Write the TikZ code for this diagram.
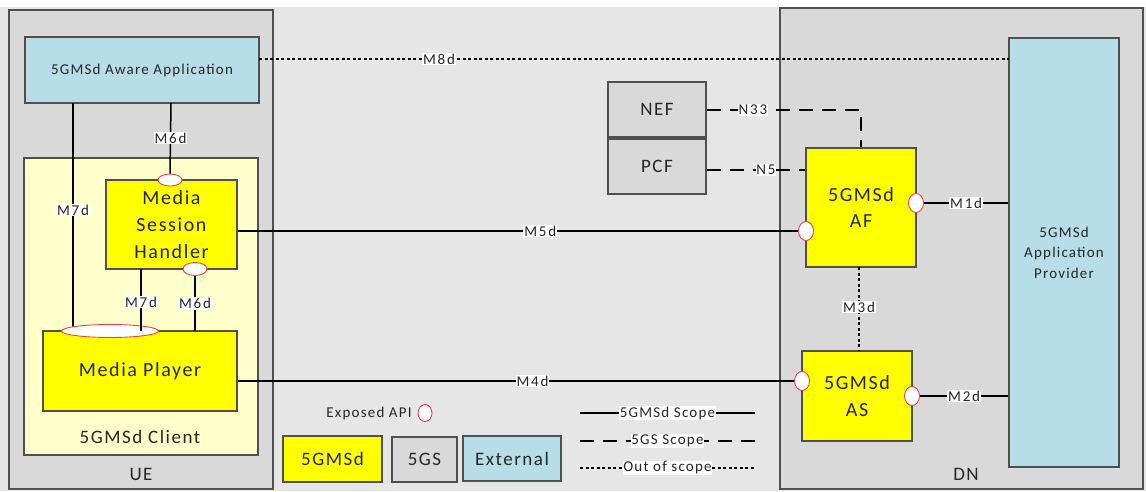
\documentclass[tikz,border=0pt]{standalone}
\usepackage{fontspec}
\setmainfont{Carlito}[LetterSpace=8]
\newfontfamily\lblfont{Carlito}[LetterSpace=12]
\usetikzlibrary{shapes.geometric}
\definecolor{bgmid}{HTML}{E6E6E6}
\definecolor{bgdark}{HTML}{D9D9D9}
\definecolor{clientbg}{HTML}{FFFFCC}
\definecolor{gyellow}{HTML}{FFFF00}
\definecolor{extblue}{HTML}{B7DDE8}
\definecolor{edge}{HTML}{505050}
\definecolor{apired}{HTML}{F04040}
\tikzset{
  box/.style={draw=edge, line width=1.2pt, rectangle, inner sep=0pt, align=center, text=black!85},
  area/.style={box, fill=bgdark},
  gms/.style={box, fill=gyellow},
  ext/.style={box, fill=extblue},
  fivegs/.style={box, fill=bgdark},
  api/.style={draw=apired, fill=white, ellipse, inner sep=0pt, line width=0.9pt},
  lbl/.style={fill=white, inner sep=0.8pt, font=\lblfont\fontsize{15}{16}\selectfont, text=black!85},
  leglbl/.style={fill=white, inner sep=0.8pt, font=\fontsize{15}{16}\selectfont, text=black!85},
  solidc/.style={line width=1.5pt},
  dashc/.style={line width=1.5pt, dash pattern=on 14pt off 9pt},
  dotc/.style={line width=1.3pt, dash pattern=on 3pt off 2.5pt},
}
\begin{document}
\begin{tikzpicture}[x=1pt,y=-1pt]
\useasboundingbox (0,0) rectangle (1146,491);
\fill[white] (0,0) rectangle (1146,491);
\fill[bgmid] (0,7) rectangle (1146,491);
% areas
\node[area, minimum width=264, minimum height=479] (ue) at (141,249.5) {};
\node[area, minimum width=363, minimum height=481] (dn) at (961.5,248.5) {};
\node[font=\fontsize{19}{20}\selectfont, text=black!85] (uelbl) at (141,474) {UE};
\node[font=\fontsize{19}{20}\selectfont, text=black!85] (dnlbl) at (966,474) {DN};
% UE content
\node[ext, minimum width=234, minimum height=66, font=\fontsize{15}{16}\selectfont] (app) at (142,70) {5GMSd Aware Application};
\node[box, fill=clientbg, minimum width=234, minimum height=297] (client) at (141,306.5) {};
\node[font=\fontsize{19}{20}\selectfont, text=black!85] (clientlbl) at (140,437) {5GMSd Client};
\node[gms, minimum width=131, minimum height=89, font=\fontsize{20}{27}\selectfont] (msh) at (171.5,224.5) {Media\\Session\\Handler};
\node[gms, minimum width=194, minimum height=80, font=\fontsize{20}{24}\selectfont] (mp) at (140,371) {Media Player};
% 5GS
\node[fivegs, minimum width=98, minimum height=55, font=\fontsize{19}{20}\selectfont] (nef) at (657,109.5) {NEF};
\node[fivegs, minimum width=98, minimum height=55, font=\fontsize{19}{20}\selectfont] (pcf) at (657,166.5) {PCF};
% DN content
\node[gms, minimum width=110, minimum height=119, font=\fontsize{20}{26}\selectfont] (af) at (861,207.5) {5GMSd\\AF};
\node[gms, minimum width=110, minimum height=90, font=\fontsize{20}{27}\selectfont] (as) at (857,396) {5GMSd\\AS};
\node[ext, minimum width=110, minimum height=429, font=\fontsize{15}{20.5}\selectfont] (prov) at (1064,252.5) {5GMSd\\Application\\Provider};
% coordinates
\coordinate (m8a) at (259,59);
\coordinate (m8b) at (1009,59);
\coordinate (m7top) at (73,103);
\coordinate (m7bot) at (73,331);
\coordinate (m6top) at (171,103);
\coordinate (m7mtop) at (141,269);
\coordinate (m7mbot) at (141,331);
\coordinate (m6mbot) at (195,331);
\coordinate (n33corner) at (861,110);
\coordinate (m3top) at (859,267);
\coordinate (m3bot) at (859,351);
% connectors
\draw[dotc] (m8a) -- node[lbl, pos=0.24] {M8d} (m8b);
\draw[solidc] (m7top) -- node[lbl, pos=0.47] {M7d} (m7bot);
\node[api, minimum width=24, minimum height=12] (mshT) at (170,180) {};
\node[api, minimum width=24, minimum height=13] (mshB) at (195,269) {};
\node[api, minimum width=97, minimum height=13] (mpT) at (110,331) {};
\draw[solidc] (m6top) -- node[lbl, pos=0.5] {M6d} (mshT.north);
\draw[solidc] (m7mtop) -- node[lbl, pos=0.53] {M7d} (m7mbot);
\draw[solidc] (mshB.south) -- node[lbl, pos=0.5] {M6d} (m6mbot);
\node[api, minimum width=15, minimum height=19] (afL) at (806,231) {};
\node[api, minimum width=15, minimum height=19] (afR) at (916,203) {};
\node[api, minimum width=15, minimum height=19] (asL) at (802,381) {};
\node[api, minimum width=15, minimum height=19] (asR) at (912,396) {};
\draw[solidc] (afL.west -| msh.east) -- node[lbl, pos=0.54] {M5d} (afL.west);
\draw[solidc] (asL.west -| mp.east) -- node[lbl, pos=0.53] {M4d} (asL.west);
\draw[solidc] (afR.east) -- node[lbl, pos=0.5] {M1d} (afR.east -| prov.west);
\draw[solidc] (asR.east) -- node[lbl, pos=0.5] {M2d} (asR.east -| prov.west);
\draw[dashc] (nef.east |- n33corner) -- node[lbl, pos=0.3] {N33} (n33corner) -- (af.north -| n33corner);
\draw[dashc] (pcf.east |- 0,170) -- node[lbl, pos=0.6] {N5} (af.west |- 0,170);
\draw[dotc] (m3top) -- node[lbl, pos=0.48] {M3d} (m3bot);
% legend
\node[font=\fontsize{15}{16}\selectfont, text=black!85] (apilbl) at (369,413) {Exposed API};
\node[api, minimum width=14, minimum height=17] (apileg) at (425,413) {};
\node[gms, minimum width=99, minimum height=46, font=\fontsize{19}{20}\selectfont] (leg1) at (332.5,459) {5GMSd};
\node[fivegs, minimum width=65, minimum height=45, font=\fontsize{19}{20}\selectfont] (leg2) at (424.5,459.5) {5GS};
\node[ext, minimum width=98, minimum height=45, font=\fontsize{19}{20}\selectfont] (leg3) at (512,458.5) {External};
\coordinate (l1a) at (580,413); \coordinate (l1b) at (755,413);
\coordinate (l2a) at (580,441); \coordinate (l2b) at (755,441);
\coordinate (l3a) at (580,468); \coordinate (l3b) at (755,468);
\draw[solidc] (l1a) -- node[leglbl, pos=0.5] {5GMSd Scope} (l1b);
\draw[dashc] (l2a) -- node[leglbl, pos=0.5] {5GS Scope} (l2b);
\draw[dotc] (l3a) -- node[leglbl, pos=0.5] {Out of scope} (l3b);
\end{tikzpicture}
\end{document}
